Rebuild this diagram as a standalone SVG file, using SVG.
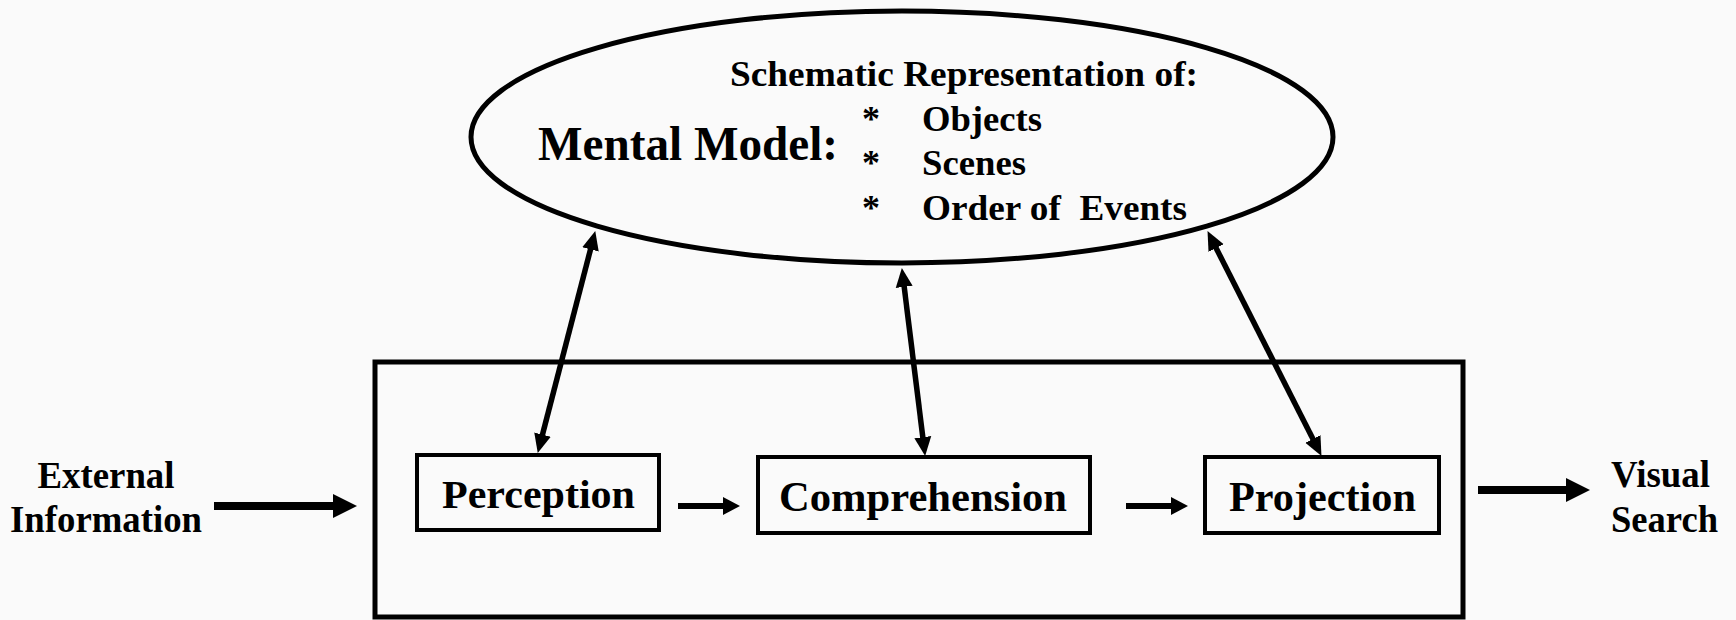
<svg xmlns="http://www.w3.org/2000/svg" width="1736" height="620" viewBox="0 0 1736 620">
<defs>
<style>
text{font-family:"Liberation Serif","Times New Roman",serif;font-weight:bold;fill:#000}
.box{fill:none;stroke:#000;stroke-width:4}
.conn{stroke:#000;fill:none}
</style>
<marker id="dh" markerUnits="userSpaceOnUse" markerWidth="20" markerHeight="18" refX="8" refY="8.5" orient="auto-start-reverse" viewBox="0 0 20 17">
<path d="M0,0 L19,8.5 L0,17 z" fill="#000"/>
</marker>
<marker id="sh" markerUnits="userSpaceOnUse" markerWidth="18" markerHeight="18" refX="2" refY="9" orient="auto" viewBox="0 0 18 18">
<path d="M0,0 L17,9 L0,18 z" fill="#000"/>
</marker>
<marker id="bh" markerUnits="userSpaceOnUse" markerWidth="26" markerHeight="24" refX="2" refY="12" orient="auto" viewBox="0 0 26 24">
<path d="M0,0 L24,12 L0,24 z" fill="#000"/>
</marker>
</defs>
<rect x="0" y="0" width="1736" height="620" fill="#fafafa"/>

<g id="mental-model">
<ellipse cx="902" cy="137" rx="431" ry="126" fill="none" stroke="#000" stroke-width="5"/>
<text x="730" y="86" font-size="35" textLength="468" lengthAdjust="spacingAndGlyphs">Schematic Representation of:</text>
<text x="538" y="160" font-size="48" textLength="300" lengthAdjust="spacingAndGlyphs">Mental Model:</text>
<text x="862" y="131" font-size="36">*</text>
<text x="862" y="175" font-size="36">*</text>
<text x="862" y="220" font-size="36">*</text>
<text x="922" y="131" font-size="36" textLength="120" lengthAdjust="spacingAndGlyphs">Objects</text>
<text x="922" y="175" font-size="36" textLength="104" lengthAdjust="spacingAndGlyphs">Scenes</text>
<text x="922" y="220" font-size="36" textLength="265" lengthAdjust="spacingAndGlyphs" xml:space="preserve" style="white-space:pre">Order of  Events</text>
</g>

<g id="sa-container">
<rect x="375" y="362" width="1088" height="255" fill="none" stroke="#000" stroke-width="5"/>
</g>

<g id="perception">
<rect class="box" x="417" y="455" width="242" height="75" stroke-width="3.5"/>
<text x="442" y="508" font-size="41" textLength="193" lengthAdjust="spacingAndGlyphs">Perception</text>
</g>

<g id="comprehension">
<rect class="box" x="758" y="457" width="332" height="76" stroke-width="3.5"/>
<text x="779" y="511" font-size="42" textLength="288" lengthAdjust="spacingAndGlyphs">Comprehension</text>
</g>

<g id="projection">
<rect class="box" x="1205" y="457" width="234" height="76" stroke-width="3.5"/>
<text x="1229" y="511" font-size="42" textLength="187" lengthAdjust="spacingAndGlyphs">Projection</text>
</g>

<g id="external-information">
<text x="106" y="488" font-size="37" text-anchor="middle" textLength="137" lengthAdjust="spacingAndGlyphs">External</text>
<text x="106" y="532" font-size="37" text-anchor="middle" textLength="192" lengthAdjust="spacingAndGlyphs">Information</text>
</g>

<g id="visual-search">
<text x="1611" y="487" font-size="37" textLength="99" lengthAdjust="spacingAndGlyphs">Visual</text>
<text x="1611" y="532" font-size="37" textLength="107" lengthAdjust="spacingAndGlyphs">Search</text>
</g>

<g id="connectors">
<line class="conn" x1="540.5" y1="442.3" x2="592.5" y2="241.7" stroke-width="5.5" marker-start="url(#dh)" marker-end="url(#dh)"/>
<line class="conn" x1="923.8" y1="445.1" x2="903.2" y2="278.9" stroke-width="5.5" marker-start="url(#dh)" marker-end="url(#dh)"/>
<line class="conn" x1="1316.5" y1="446.1" x2="1212.5" y2="240.9" stroke-width="5.5" marker-start="url(#dh)" marker-end="url(#dh)"/>
<line class="conn" x1="678" y1="506" x2="725" y2="506" stroke-width="6" marker-end="url(#sh)"/>
<line class="conn" x1="1126" y1="506" x2="1173" y2="506" stroke-width="6" marker-end="url(#sh)"/>
<line class="conn" x1="214" y1="506" x2="335" y2="506" stroke-width="8" marker-end="url(#bh)"/>
<line class="conn" x1="1478" y1="490" x2="1568" y2="490" stroke-width="8" marker-end="url(#bh)"/>
</g>
</svg>
